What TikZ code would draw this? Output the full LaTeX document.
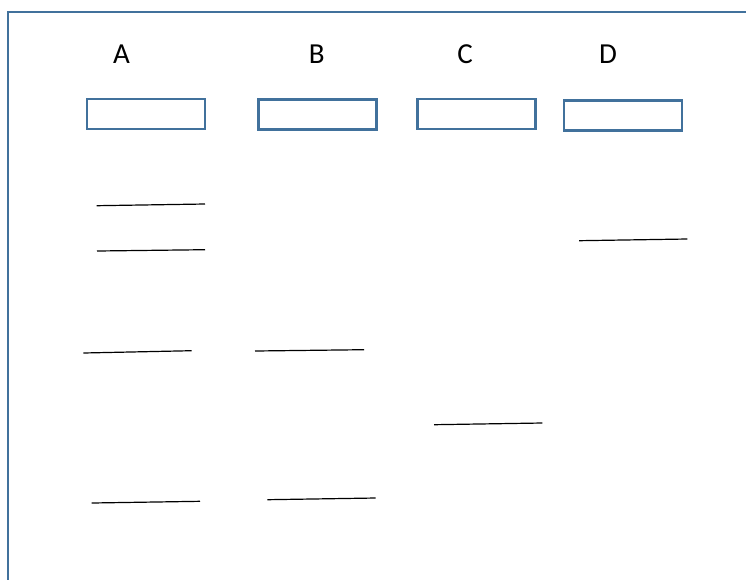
\documentclass[tikz,border=0pt]{standalone}
\usepackage{fontspec}
\setmainfont{Carlito}
\definecolor{boxblue}{HTML}{41719C}

\begin{document}
\begin{tikzpicture}[
                x=1pt, y=-1pt,
                gelframe/.style={draw=boxblue,line width=2pt},
                well/.style={draw=boxblue,line width=2.3pt,inner sep=0pt,
                             minimum width=118pt,minimum height=30pt},
                lanelabel/.style={font=\fontsize{29}{34}\selectfont,anchor=base,inner sep=0pt},
                band/.style={line width=1.2pt}
            ]
                \useasboundingbox (0,0) rectangle (746,579);
                % frame, open at right and bottom
                \draw[gelframe] (7.7,580) -- (7.7,12.2) -- (747,12.2);
                % lane labels
                \node[lanelabel] (labA) at (121.5,63) {A};
                \node[lanelabel] (labB) at (316.7,63) {B};
                \node[lanelabel] (labC) at (465,63)   {C};
                \node[lanelabel] (labD) at (608,63)   {D};
                % wells
                \node[well] (wellA) at (145.8,114)   {};
                \node[well] (wellB) at (317.5,114.5) {};
                \node[well] (wellC) at (476.6,114.2) {};
                \node[well] (wellD) at (623.2,115.5) {};
                % bands
                \foreach \xa/\ya/\xb/\yb in {96.7/205.7/205/204, 97/251/205/249.7,
                    83.3/353/191.7/350.7, 91.7/503/200/501.3,
                    255/351/364/349.7, 267.3/499.7/375.7/498,
                    434/424.7/542.3/423, 579/240.7/687.3/239}
                    \draw[band] (\xa,\ya) -- (\xb,\yb);
            \end{tikzpicture}
\end{document}
